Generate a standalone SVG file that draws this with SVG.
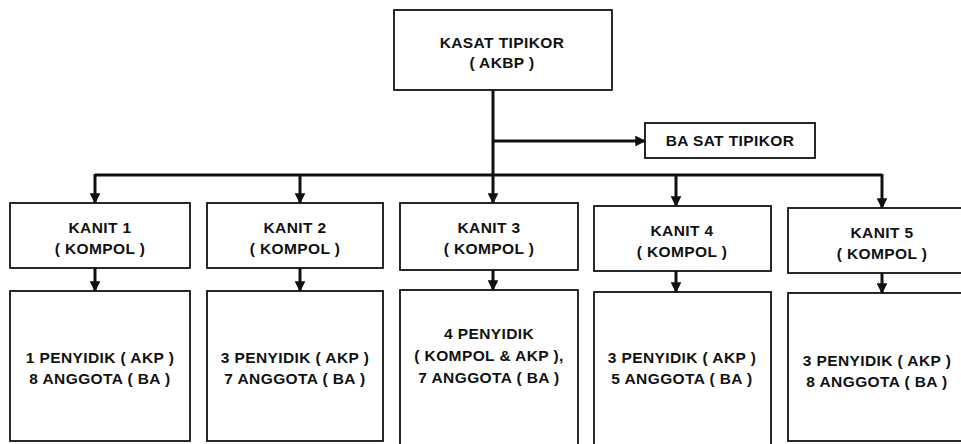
<svg xmlns="http://www.w3.org/2000/svg" width="961" height="444" viewBox="0 0 961 444">
  <style>
    .box { fill: none; stroke: #111; stroke-width: 1.8; }
    .lbl { font-family: "Liberation Sans", Arial, sans-serif; font-weight: bold; font-size: 15.5px; letter-spacing: 0.4px; fill: #111; text-anchor: middle; }
    .wire { fill: none; stroke: #111; stroke-width: 3; }
  </style>
  <defs>
    <marker id="arrow" viewBox="0 0 10 10" refX="9" refY="5" markerWidth="3.6" markerHeight="3.6" orient="auto" markerUnits="strokeWidth">
      <path d="M0,0 L10,5 L0,10 Z" fill="#111"/>
    </marker>
  </defs>
  <rect width="961" height="444" fill="#fff"/>

  <g id="connectors">
    <!-- head to bus and to unit 3 -->
    <path class="wire" d="M493,90 V203" marker-end="url(#arrow)"/>
    <path class="wire" d="M493,141 H645" marker-end="url(#arrow)"/>
    <path class="wire" d="M95,175 H882"/>
    <path class="wire" d="M95,174 V203" marker-end="url(#arrow)"/>
    <path class="wire" d="M300,174 V203" marker-end="url(#arrow)"/>
    <path class="wire" d="M676,174 V206" marker-end="url(#arrow)"/>
    <path class="wire" d="M882,174 V208" marker-end="url(#arrow)"/>
    <!-- units to members -->
    <path class="wire" d="M95,268 V291" marker-end="url(#arrow)"/>
    <path class="wire" d="M300,268 V291" marker-end="url(#arrow)"/>
    <path class="wire" d="M493,270 V290" marker-end="url(#arrow)"/>
    <path class="wire" d="M676,271 V292" marker-end="url(#arrow)"/>
    <path class="wire" d="M882,273 V293" marker-end="url(#arrow)"/>
  </g>

  <g id="kasat">
    <rect class="box" x="394" y="10" width="218" height="80"/>
    <text class="lbl" x="502" y="48">KASAT TIPIKOR</text>
    <text class="lbl" x="502" y="68">( AKBP )</text>
  </g>

  <g id="ba-sat">
    <rect class="box" x="645" y="123" width="170" height="35"/>
    <text class="lbl" x="730" y="146">BA SAT TIPIKOR</text>
  </g>

  <g id="kanit1">
    <rect class="box" x="10" y="203" width="180" height="65"/>
    <text class="lbl" x="100" y="233">KANIT 1</text>
    <text class="lbl" x="100" y="254">( KOMPOL )</text>
  </g>
  <g id="kanit2">
    <rect class="box" x="207" y="203" width="176" height="65"/>
    <text class="lbl" x="295" y="233">KANIT 2</text>
    <text class="lbl" x="295" y="254">( KOMPOL )</text>
  </g>
  <g id="kanit3">
    <rect class="box" x="400" y="203" width="178" height="67"/>
    <text class="lbl" x="489" y="233">KANIT 3</text>
    <text class="lbl" x="489" y="254">( KOMPOL )</text>
  </g>
  <g id="kanit4">
    <rect class="box" x="594" y="206" width="177" height="65"/>
    <text class="lbl" x="682" y="236">KANIT 4</text>
    <text class="lbl" x="682" y="257">( KOMPOL )</text>
  </g>
  <g id="kanit5">
    <rect class="box" x="788" y="208" width="190" height="65"/>
    <text class="lbl" x="882" y="238">KANIT 5</text>
    <text class="lbl" x="882" y="259">( KOMPOL )</text>
  </g>

  <g id="anggota1">
    <rect class="box" x="10" y="291" width="180" height="150"/>
    <text class="lbl" x="100" y="363">1 PENYIDIK ( AKP )</text>
    <text class="lbl" x="100" y="384">8 ANGGOTA ( BA )</text>
  </g>
  <g id="anggota2">
    <rect class="box" x="207" y="291" width="176" height="150"/>
    <text class="lbl" x="295" y="363">3 PENYIDIK ( AKP )</text>
    <text class="lbl" x="295" y="384">7 ANGGOTA ( BA )</text>
  </g>
  <g id="anggota3">
    <rect class="box" x="400" y="290" width="178" height="156"/>
    <text class="lbl" x="489" y="339">4 PENYIDIK</text>
    <text class="lbl" x="489" y="361">( KOMPOL &amp; AKP ),</text>
    <text class="lbl" x="489" y="383">7 ANGGOTA ( BA )</text>
  </g>
  <g id="anggota4">
    <rect class="box" x="594" y="292" width="177" height="154"/>
    <text class="lbl" x="682" y="363">3 PENYIDIK ( AKP )</text>
    <text class="lbl" x="682" y="384">5 ANGGOTA ( BA )</text>
  </g>
  <g id="anggota5">
    <rect class="box" x="788" y="293" width="190" height="148"/>
    <text class="lbl" x="877" y="366">3 PENYIDIK ( AKP )</text>
    <text class="lbl" x="877" y="387">8 ANGGOTA ( BA )</text>
  </g>
</svg>
